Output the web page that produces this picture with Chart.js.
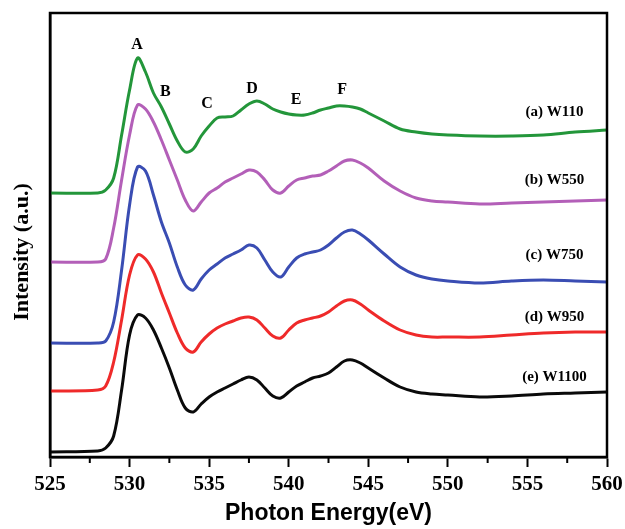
<!DOCTYPE html>
<html><head><meta charset="utf-8">
<script src="https://cdn.jsdelivr.net/npm/chart.js@4"></script>
<style>html,body{margin:0;padding:0;background:#fff;overflow:hidden;}</style>
</head><body>
<canvas id="c" width="625" height="529"></canvas>
<script>
// Photon energy grid (eV)
const energy = [525,528,528.5,529,529.5,530,530.5,531,531.5,532,532.5,533,533.5,534,534.5,535,535.5,536,536.5,537,537.5,538,538.5,539,539.5,540,540.5,541,541.5,542,542.5,543,543.5,544,544.5,545,546,547,548,549,550,552,554,556,558,560];
// Intensity (a.u., stacked offsets as in the figure)
const w110  = [2.64,2.64,2.67,2.79,3.22,3.67,3.99,3.85,3.64,3.50,3.33,3.16,3.05,3.08,3.21,3.31,3.39,3.40,3.41,3.47,3.53,3.56,3.53,3.48,3.45,3.43,3.42,3.42,3.44,3.47,3.49,3.51,3.51,3.50,3.48,3.44,3.36,3.28,3.25,3.23,3.22,3.21,3.21,3.22,3.25,3.27];
const w550  = [1.95,1.95,1.98,2.29,2.77,3.22,3.52,3.48,3.35,3.17,2.97,2.77,2.57,2.46,2.55,2.64,2.69,2.75,2.79,2.83,2.87,2.85,2.77,2.67,2.64,2.71,2.77,2.79,2.81,2.82,2.86,2.91,2.96,2.97,2.94,2.89,2.76,2.66,2.59,2.56,2.55,2.53,2.54,2.55,2.56,2.57];
const w750  = [1.14,1.14,1.16,1.35,1.87,2.52,2.90,2.86,2.62,2.35,2.14,1.90,1.72,1.67,1.78,1.87,1.93,1.99,2.03,2.07,2.12,2.09,1.97,1.85,1.80,1.90,1.99,2.03,2.05,2.07,2.12,2.19,2.25,2.27,2.23,2.17,2.03,1.90,1.82,1.78,1.76,1.74,1.76,1.77,1.76,1.75];
const w950  = [0.66,0.67,0.71,0.95,1.37,1.82,2.02,1.98,1.85,1.64,1.44,1.24,1.09,1.05,1.15,1.23,1.29,1.33,1.36,1.39,1.40,1.37,1.29,1.21,1.19,1.27,1.34,1.37,1.39,1.41,1.45,1.51,1.56,1.57,1.53,1.47,1.36,1.27,1.22,1.20,1.20,1.20,1.22,1.24,1.25,1.25];
const w1100 = [0.05,0.06,0.09,0.21,0.67,1.22,1.42,1.39,1.27,1.09,0.89,0.67,0.49,0.45,0.53,0.60,0.65,0.69,0.73,0.77,0.80,0.77,0.69,0.61,0.59,0.65,0.71,0.75,0.79,0.81,0.84,0.90,0.96,0.97,0.94,0.89,0.79,0.70,0.65,0.63,0.62,0.60,0.61,0.63,0.64,0.65];
const seriesNames = ['(a) W110','(b) W550','(c) W750','(d) W950','(e) W1100'];
const xTicks = [525,530,535,540,545,550,555,560];
const peakLetters = ['A','B','C','D','E','F'];

// annotation placement (data coordinates)
const peakLetterAt = [[530.47,4.12],[532.25,3.65],[534.87,3.53],[537.7,3.68],[540.46,3.57],[543.35,3.67]];
const seriesLabelAt = [[556.7,3.45],[556.7,2.77],[556.7,2.02],[556.7,1.40],[556.7,0.80]];
const colors = ['#23963a','#b35fb8','#3a4db3','#ef2a2a','#0a0a0a'];
const allSeries = [w110,w550,w750,w950,w1100];

const overlay = {
  id:'overlay',
  afterDraw(chart){
    const {ctx, chartArea:a, scales:{x,y}} = chart;
    ctx.save();
    ctx.strokeStyle='#000'; ctx.lineWidth=2.5;
    ctx.strokeRect(a.left, a.top, a.right-a.left, a.bottom-a.top);
    // minor ticks
    ctx.lineWidth=2;
    for(let v=527.5; v<560; v+=5){
      const px=x.getPixelForValue(v);
      ctx.beginPath(); ctx.moveTo(px,a.bottom); ctx.lineTo(px,a.bottom+6); ctx.stroke();
    }
    ctx.fillStyle='#000'; ctx.textAlign='center'; ctx.textBaseline='middle';
    ctx.font='bold 16px "Liberation Serif"';
    peakLetters.forEach((t,i)=>ctx.fillText(t, x.getPixelForValue(peakLetterAt[i][0]), y.getPixelForValue(peakLetterAt[i][1])));
    ctx.font='bold 15px "Liberation Serif"';
    seriesNames.forEach((t,i)=>ctx.fillText(t, x.getPixelForValue(seriesLabelAt[i][0]), y.getPixelForValue(seriesLabelAt[i][1])));
    ctx.translate(22, 252); ctx.rotate(-Math.PI/2);
    ctx.font='bold 22px "Liberation Serif"';
    ctx.fillText('Intensity (a.u.)',0,0);
    ctx.restore();
  }
};

new Chart(document.getElementById('c'), {
  type:'line',
  data:{
    datasets: allSeries.map((s,i)=>({
      label: seriesNames[i],
      data: energy.map((e,k)=>({x:e, y:s[k]})),
      borderColor: colors[i],
      borderWidth: 3,
      pointRadius: 0,
      tension: 0.35,
      fill:false
    }))
  },
  options:{
    responsive:false, animation:false, devicePixelRatio:1,
    layout:{padding:{top:13,right:18,left:0,bottom:0}},
    plugins:{legend:{display:false}, tooltip:{enabled:false}},
    scales:{
      x:{
        type:'linear', min:525, max:560,
        afterBuildTicks(scale){ scale.ticks = xTicks.map(v=>({value:v})); },
        afterFit(scale){ scale.height = 72; scale.paddingLeft = 0; scale.paddingRight = 0; },
        ticks:{ color:'#000', padding:5, maxRotation:0, autoSkip:false,
          font:{family:'"Liberation Serif"', size:21, weight:'bold'} },
        grid:{ drawOnChartArea:false, drawTicks:true, tickLength:10, tickWidth:2, tickColor:'#000' },
        border:{ display:true, color:'#000', width:2.5 },
        title:{ display:true, text:'Photon Energy(eV)', color:'#000',
          font:{family:'"Liberation Sans"', size:23, weight:'bold', lineHeight:1.2},
          padding:{top:0,bottom:2} }
      },
      y:{
        min:0, max:4.44,
        afterFit(scale){ scale.width = 50; },
        ticks:{display:false},
        grid:{display:false},
        border:{display:true, color:'#000', width:2.5},
        title:{display:false}
      }
    }
  },
  plugins:[overlay]
});
</script>
</body></html>
